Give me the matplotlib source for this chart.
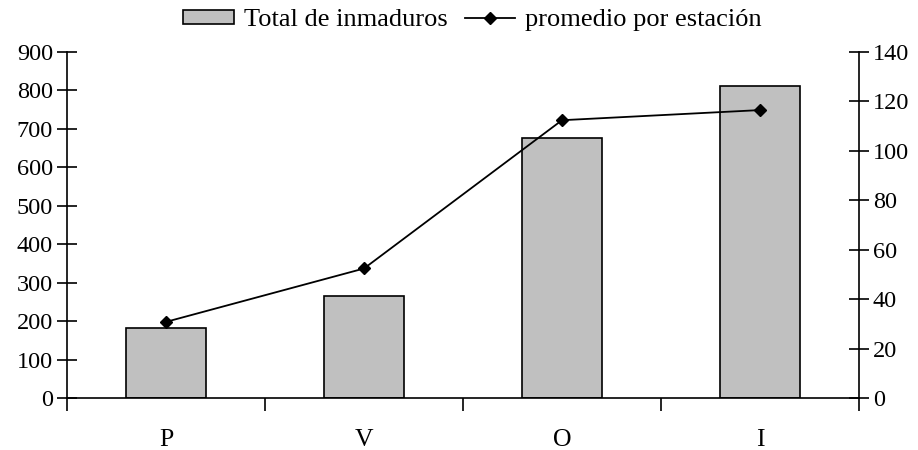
import matplotlib
matplotlib.use("Agg")
import matplotlib.pyplot as plt
import numpy as np

categories = ["P", "V", "O", "I"]
total_inmaduros = [182, 265, 677, 812]
promedio_estacion = [30.8, 52.4, 112.4, 116.5]

plt.rcParams['font.family'] = ['Liberation Serif', 'DejaVu Serif']

fig = plt.figure(figsize=(9.18, 4.5), dpi=100)
ax = fig.add_axes([67/918, 1-398/450, (859-67)/918, (398-52)/450])
ax2 = ax.twinx()

x = np.arange(len(categories))
bars = ax.bar(x, total_inmaduros, width=0.4, color='#C0C0C0', edgecolor='black',
              linewidth=1.2, label='Total de inmaduros', zorder=2)
line, = ax2.plot(x, promedio_estacion, color='black', linewidth=1.3, marker='D',
                 markersize=6.5, label='promedio por estación', zorder=3)

ax.set_xlim(-0.5, 3.5)
ax.set_ylim(0, 900)
ax.set_yticks(range(0, 901, 100))
ax2.set_ylim(0, 140)
ax2.set_yticks(range(0, 141, 20))

ax.set_xticks(np.arange(-0.5, 3.6, 1))
ax.set_xticklabels([])
ax.set_xticks(x, minor=True)
ax.set_xticklabels(categories, minor=True)
ax.tick_params(axis='x', which='major', direction='out', length=9, width=1.2)
ax.tick_params(axis='x', which='minor', length=0, pad=22, labelsize=18.5)
ax.tick_params(axis='y', direction='inout', length=14, width=1.2, labelsize=17.5, pad=3)
ax2.tick_params(axis='y', direction='inout', length=14, width=1.2, labelsize=17.5, pad=3)

for a in (ax, ax2):
    a.spines['top'].set_visible(False)
    for s in ('left', 'right', 'bottom'):
        a.spines[s].set_linewidth(1.2)
ax.spines['right'].set_visible(False)
ax2.spines['left'].set_visible(False)
ax2.spines['bottom'].set_visible(False)

leg = fig.legend([bars, line], ['Total de inmaduros', 'promedio por estación'],
                 loc='upper center', bbox_to_anchor=(0.5147, 1.032), ncol=2, frameon=False,
                 fontsize=19, handlelength=1.93, handleheight=0.45, handletextpad=0.38,
                 columnspacing=0.64)

fig.savefig("out.png", dpi=100)
